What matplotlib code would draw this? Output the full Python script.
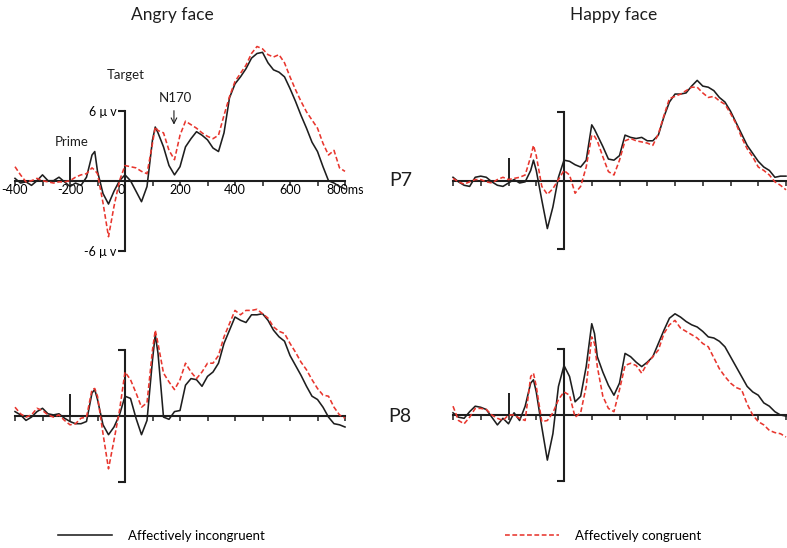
import matplotlib
matplotlib.use("Agg")
import matplotlib.pyplot as plt

plt.rcParams['font.family'] = ['Lato', 'DejaVu Sans']

# ---------------- data (µV) ----------------
TIME = [-400, -380, -360, -340, -320, -300, -280, -260, -240, -220, -200, -180, -160, -140, -120,
        -110,
        -100, -80, -60, -40, -20, 0, 20, 40, 60, 80, 100,
        110,
        120, 140, 160, 180, 200, 220, 240, 260, 280, 300,
        320, 340, 360, 380, 400, 420, 440, 460, 480, 500,
        520, 540, 560, 580, 600, 620, 640, 660, 680, 700,
        720, 740, 760, 780, 800]

P7_ANGRY_INCONG = [0.2, -0.2, -0.1, -0.4, 0.0, 0.5, 0.0, 0.0, 0.3, -0.1, -0.5, -0.2, -0.4, 0.3, 2.2,
                   2.5,
                   0.8, -1.1, -2.0, -0.9, 0.0, 0.5, 0.0, -0.9, -1.8, -0.5, 3.5,
                   4.6,
                   4.1, 2.9, 1.3, 0.5, 1.2, 2.9, 3.6, 4.2, 3.9, 3.5,
                   2.8, 2.5, 4.1, 7.1, 8.3, 8.9, 9.6, 10.5, 10.9, 11.0,
                   10.1, 9.5, 9.3, 8.9, 7.9, 6.8, 5.6, 4.5, 3.3, 2.5,
                   1.2, 0.0, -0.2, -0.5, -0.7]
P7_ANGRY_CONG = [1.2, 0.5, -0.1, 0.0, 0.2, 0.0, -0.1, -0.2, -0.1, -0.1, 0.0, 0.3, 0.5, 0.6, 1.1,
                 0.9,
                 0.6, -1.9, -4.8, -2.2, 0.0, 1.3, 1.2, 1.1, 0.8, 0.6, 3.2,
                 4.6,
                 4.3, 4.1, 2.6, 1.8, 3.9, 5.1, 4.8, 4.5, 4.1, 3.8,
                 3.6, 3.9, 5.6, 7.2, 8.5, 9.2, 9.9, 10.9, 11.5, 11.3,
                 10.8, 10.6, 10.8, 10.1, 8.9, 7.8, 6.8, 5.9, 5.2, 4.5,
                 3.2, 2.2, 2.6, 1.1, 0.8]
P7_HAPPY_INCONG = [0.3, -0.1, -0.4, -0.5, 0.3, 0.4, 0.3, -0.1, -0.4, -0.5, -0.2, 0.1, -0.2, -0.1, 0.9,
                   1.8,
                   0.9, -1.7, -4.2, -2.3, 0.3, 1.8, 1.7, 1.4, 1.2, 1.8, 4.9,
                   4.5,
                   4.0, 3.0, 1.9, 1.8, 2.2, 4.0, 3.8, 3.7, 3.8, 3.5,
                   3.5, 4.0, 5.6, 6.9, 7.6, 7.6, 7.7, 8.3, 8.8, 8.3,
                   8.2, 7.9, 7.3, 6.9, 6.1, 5.1, 4.1, 3.1, 2.4, 1.7,
                   1.2, 0.9, 0.3, 0.4, 0.4]
P7_HAPPY_CONG = [0.2, -0.1, -0.3, -0.1, 0.1, 0.1, -0.1, -0.2, 0.1, 0.3, 0.1, 0.2, 0.3, 0.5, 2.1,
                 3.1,
                 2.2, -0.5, -1.2, -0.7, 0.1, 0.9, 0.5, -1.1, -0.5, 1.2, 4.0,
                 3.9,
                 3.5, 2.1, 0.8, 0.5, 1.8, 3.5, 3.7, 3.5, 3.4, 3.3,
                 3.1, 4.1, 5.7, 7.2, 7.4, 7.6, 7.9, 8.2, 8.2, 7.7,
                 7.3, 7.4, 7.0, 6.7, 5.9, 5.0, 3.8, 2.8, 2.1, 1.2,
                 0.9, 0.5, -0.1, -0.4, -0.8]
P8_ANGRY_INCONG = [0.4, 0.1, -0.4, -0.1, 0.4, 0.7, 0.2, 0.1, 0.2, -0.2, -0.5, -0.7, -0.7, -0.5, 2.1,
                   2.4,
                   1.5, -0.8, -1.7, -1.0, 0.1, 1.8, 1.6, -0.2, -1.7, -0.4, 5.1,
                   7.4,
                   5.7, -0.1, -0.3, 0.4, 0.5, 2.8, 3.4, 3.3, 2.7, 3.6,
                   4.0, 4.8, 6.6, 7.8, 9.0, 8.7, 8.5, 9.2, 9.2, 9.3,
                   8.7, 7.8, 7.2, 6.8, 5.5, 4.6, 3.7, 2.7, 1.8, 1.5,
                   0.8, -0.1, -0.7, -0.8, -1.0]
P8_ANGRY_CONG = [0.8, 0.2, -0.1, 0.1, 0.7, 0.5, 0.1, -0.1, 0.1, -0.4, -0.8, -0.7, -0.2, -0.1, 2.4,
                 2.5,
                 1.8, -1.6, -4.8, -2.2, 0.5, 4.0, 3.3, 2.1, 0.8, 1.2, 6.0,
                 7.8,
                 6.6, 3.9, 3.1, 2.4, 3.3, 4.8, 4.0, 3.4, 4.0, 4.8,
                 4.8, 5.5, 7.2, 8.4, 9.6, 9.2, 9.6, 9.6, 9.7, 9.3,
                 8.9, 8.1, 7.7, 7.5, 6.6, 5.8, 4.9, 4.2, 3.3, 2.5,
                 1.9, 1.8, 0.8, 0.1, -0.2]
P8_HAPPY_INCONG = [0.2, -0.2, -0.3, 0.3, 0.8, 0.7, 0.5, -0.2, -0.9, -0.3, -0.8, 0.2, -0.5, 0.8, 2.9,
                   3.2,
                   2.1, -1.1, -4.1, -1.7, 2.6, 4.5, 3.5, 1.2, 1.7, 4.4, 8.3,
                   7.4,
                   5.3, 3.9, 2.7, 1.8, 2.9, 5.6, 5.3, 4.8, 4.4, 4.8,
                   5.3, 6.5, 7.7, 8.8, 9.2, 8.9, 8.5, 8.2, 8.0, 7.6,
                   7.1, 7.0, 6.7, 6.2, 5.3, 4.4, 3.5, 2.6, 2.1, 1.8,
                   1.1, 0.8, 0.3, 0.0, -0.1]
P8_HAPPY_CONG = [0.8, -0.5, -0.8, -0.2, 0.6, 0.6, 0.5, 0.0, -0.3, -0.5, 0.0, 0.0, -0.3, -0.5, 3.5,
                 3.8,
                 2.6, -0.6, -0.5, 0.2, 1.4, 2.1, 1.8, -0.2, 0.2, 2.6, 7.1,
                 6.5,
                 4.4, 1.7, 0.6, 0.3, 2.3, 4.5, 4.7, 4.5, 3.8, 4.7,
                 5.3, 5.9, 7.4, 8.2, 8.6, 7.9, 7.6, 7.3, 7.0, 6.5,
                 6.2, 5.2, 4.2, 3.5, 2.9, 2.5, 2.3, 1.0, 0.0, -0.6,
                 -0.9, -1.4, -1.6, -1.7, -2.0]

X_TICKS = [-400, -300, -200, -100, 0, 100, 200, 300, 400, 500, 600, 700, 800]
X_TICK_LABELS = ['-400', '', '-200', '', '0', '', '200', '', '400', '', '600', '', '800ms']
Y_TICKS = [-6, 6]
Y_TICK_LABELS = ['-6 μ v', '6 μ v']
PRIME_T, PRIME_H = -200, 2.0

COLUMN_TITLES = ['Angry face', 'Happy face']
ROW_LABELS = ['P7', 'P8']
LEGEND_LABELS = ['Affectively incongruent', 'Affectively congruent']

# ---------------- styling ----------------
W, H = 787, 548
BLACK = '#1e1e1e'
RED = '#e8362e'
YLIM = (-7, 12.5)

fig = plt.figure(figsize=(W / 100, H / 100), dpi=100)


def make_axes(x0, x1, zero_y, ppu):
    top_px = zero_y - YLIM[1] * ppu
    bot_px = zero_y - YLIM[0] * ppu
    ax = fig.add_axes([x0 / W, 1 - bot_px / H, (x1 - x0) / W, (bot_px - top_px) / H])
    ax.set_xlim(-400, 800)
    ax.set_ylim(*YLIM)
    ax.patch.set_alpha(0)
    for s in ('top', 'right'):
        ax.spines[s].set_visible(False)
    ax.spines['bottom'].set_position(('data', 0))
    ax.spines['bottom'].set_bounds(-400, 800)
    ax.spines['left'].set_position(('data', 0))
    ax.spines['left'].set_bounds(-6, 6)
    for s in ('bottom', 'left'):
        ax.spines[s].set_linewidth(1.5)
        ax.spines[s].set_color(BLACK)
        ax.spines[s].set_zorder(1)
    ax.set_xticks(X_TICKS)
    ax.set_yticks(Y_TICKS)
    ax.tick_params(axis='x', direction='out', length=3.5, width=1.1, color=BLACK,
                   labelsize=9, pad=-1)
    ax.tick_params(axis='y', direction='out', length=5, width=1.5, color=BLACK,
                   labelsize=9, pad=1)
    ax.vlines(PRIME_T, 0, PRIME_H, color=BLACK, lw=1.4, zorder=1)
    return ax


panels = [
    (15, 345, 180.7, 11.67, P7_ANGRY_INCONG, P7_ANGRY_CONG),
    (453, 786, 180.7, 11.4, P7_HAPPY_INCONG, P7_HAPPY_CONG),
    (15, 345, 416, 11.0, P8_ANGRY_INCONG, P8_ANGRY_CONG),
    (453, 786, 415, 11.0, P8_HAPPY_INCONG, P8_HAPPY_CONG),
]

axes = []
handles = None
for i, (x0, x1, zy, ppu, incong, cong) in enumerate(panels):
    ax = make_axes(x0, x1, zy, ppu)
    hb, = ax.plot(TIME, incong, color=BLACK, lw=1.15, zorder=3, clip_on=False)
    hr, = ax.plot(TIME, cong, color=RED, lw=1.15, ls=(0, (3, 1.6)), zorder=4, clip_on=False)
    if i == 0:
        handles = (hb, hr)
        ax.set_xticklabels(X_TICK_LABELS)
        ax.set_yticklabels(Y_TICK_LABELS)
        for lab in ax.get_xticklabels():
            if lab.get_text() == '0':
                lab.set_horizontalalignment('right')
    else:
        ax.set_xticklabels([])
        ax.set_yticklabels([])
    axes.append(ax)

# annotations on the first panel
ax0 = axes[0]
ax0.text(4, 9.1, 'Target', ha='center', va='center', fontsize=9.5, color=BLACK)
ax0.text(182, 7.1, 'N170', ha='center', va='center', fontsize=9.5, color=BLACK)
ax0.annotate('', xy=(178, 4.8), xytext=(178, 6.0),
             arrowprops=dict(arrowstyle='->', lw=0.8, color=BLACK, shrinkA=0, shrinkB=0))
ax0.text(-194, 3.3, 'Prime', ha='center', va='center', fontsize=9.5, color=BLACK)

# column titles and row labels
fig.text(172 / W, 1 - 15 / H, COLUMN_TITLES[0], ha='center', va='center', fontsize=12.5, color=BLACK)
fig.text(614 / W, 1 - 15 / H, COLUMN_TITLES[1], ha='center', va='center', fontsize=12.5, color=BLACK)
fig.text(401 / W, 1 - 181 / H, ROW_LABELS[0], ha='center', va='center', fontsize=14, color=BLACK)
fig.text(400 / W, 1 - 417 / H, ROW_LABELS[1], ha='center', va='center', fontsize=14, color=BLACK)

# legends
for h, lab, xpx in ((handles[0], LEGEND_LABELS[0], 58), (handles[1], LEGEND_LABELS[1], 505)):
    fig.legend([h], [lab], loc='center left', bbox_to_anchor=(xpx / W, 1 - 536 / H),
               frameon=False, fontsize=9.5, handlelength=4.1, handletextpad=1.2,
               borderpad=0, borderaxespad=0)

fig.savefig('out.png', dpi=100)
